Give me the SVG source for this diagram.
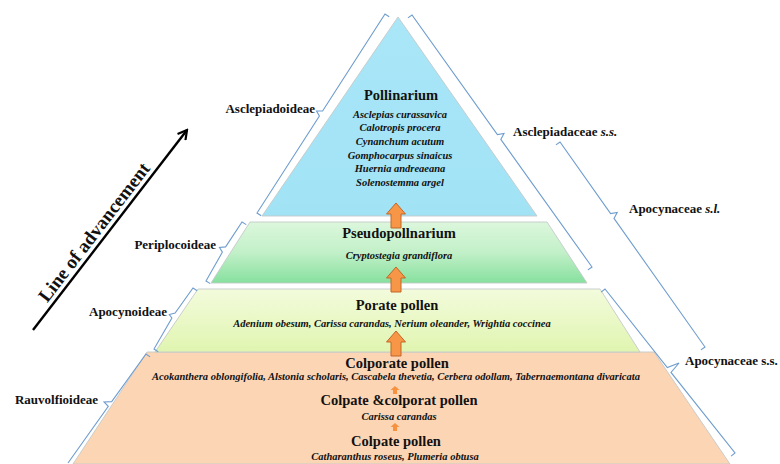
<svg xmlns="http://www.w3.org/2000/svg" width="780" height="464" viewBox="0 0 780 464">
  <style>
    .t { font-family: "Liberation Serif", "Times New Roman", serif; font-weight: bold; fill: #111; }
    .title { font-size: 14.5px; text-anchor: middle; }
    .sp { font-size: 10.5px; font-style: italic; text-anchor: middle; }
    .lab { font-size: 13px; }
    .end { text-anchor: end; }
    .br { fill: none; stroke: #6f9dcf; stroke-width: 1.1; stroke-linejoin: miter; }
    .layer { stroke: #c4c9c9; stroke-width: 0.9; }
    .bigarrow { fill: #f79646; stroke: #c2662a; stroke-width: 1; }
    .smallarrow { fill: #f5913f; }
  </style>
  <defs>
    <linearGradient id="gGreen" x1="0" y1="0" x2="0" y2="1">
      <stop offset="0" stop-color="#dcf7dc"/>
      <stop offset="0.5" stop-color="#c2f0c8"/>
      <stop offset="1" stop-color="#86e09e"/>
    </linearGradient>
    <linearGradient id="gYellow" x1="0" y1="0" x2="0" y2="1">
      <stop offset="0" stop-color="#f3fbdc"/>
      <stop offset="1" stop-color="#e0f5b0"/>
    </linearGradient>
    <linearGradient id="gBlue" x1="0" y1="0" x2="0" y2="1">
      <stop offset="0" stop-color="#a9e6f8"/>
      <stop offset="1" stop-color="#a1e3f5"/>
    </linearGradient>
    <path id="bigArrow" d="M0,0 L9.5,11 L5,11 L5,25 L-5,25 L-5,11 L-9.5,11 Z"/>
    <path id="smallArrow" d="M0,0 L4.5,4 L2,4 L2,8 L-2,8 L-2,4 L-4.5,4 Z"/>
    <marker id="arrowHead" viewBox="0 0 12 12" refX="10" refY="6" markerWidth="12" markerHeight="12" markerUnits="userSpaceOnUse" orient="auto">
      <path d="M1,1 L10,6 L1,11" fill="none" stroke="#000" stroke-width="2.2"/>
    </marker>
  </defs>

  <rect width="780" height="464" fill="#ffffff"/>

  <!-- Layers -->
  <g id="layer-rauvolfioideae">
    <polygon class="layer" points="147,352 654,352 730,464 73,464" fill="#fcd5b5"/>
    <text class="t title" x="397" y="368">Colporate pollen</text>
    <text class="t sp" x="396" y="380">Acokanthera oblongifolia, Alstonia scholaris, Cascabela thevetia, Cerbera odollam, Tabernaemontana divaricata</text>
    <use href="#smallArrow" x="395" y="386" class="smallarrow"/>
    <text class="t title" x="399" y="405">Colpate &amp;colporat pollen</text>
    <text class="t sp" x="399" y="420">Carissa carandas</text>
    <use href="#smallArrow" x="395" y="423" class="smallarrow"/>
    <text class="t title" x="396" y="446">Colpate pollen</text>
    <text class="t sp" x="395" y="460">Catharanthus roseus, Plumeria obtusa</text>
  </g>

  <g id="layer-apocynoideae">
    <polygon class="layer" points="198,289 600,289 640,352 155,352" fill="url(#gYellow)"/>
    <text class="t title" x="397" y="310">Porate pollen</text>
    <text class="t sp" x="392" y="327">Adenium obesum, Carissa carandas, Nerium oleander, Wrightia coccinea</text>
  </g>

  <g id="layer-periplocoideae">
    <polygon class="layer" points="250,222 547,222 587,283 211,283" fill="url(#gGreen)"/>
    <text class="t title" x="399" y="238">Pseudopollnarium</text>
    <text class="t sp" x="399" y="259">Cryptostegia grandiflora</text>
  </g>

  <g id="layer-asclepiadoideae">
    <polygon class="layer" points="398,17 537,216 262,216" fill="url(#gBlue)"/>
    <text class="t title" x="401" y="100">Pollinarium</text>
    <text class="t sp" x="400" y="117.5">Asclepias curassavica</text>
    <text class="t sp" x="400" y="131">Calotropis procera</text>
    <text class="t sp" x="400" y="144.5">Cynanchum acutum</text>
    <text class="t sp" x="400" y="158.5">Gomphocarpus sinaicus</text>
    <text class="t sp" x="400" y="172">Huernia andreaeana</text>
    <text class="t sp" x="400" y="186">Solenostemma argel</text>
  </g>

  <!-- Connectors: upward arrows between layers -->
  <g id="connectors">
    <use href="#bigArrow" x="396" y="203" class="bigarrow"/>
    <use href="#bigArrow" x="396" y="267" class="bigarrow"/>
    <use href="#bigArrow" x="396" y="331" class="bigarrow"/>
  </g>

  <!-- Brackets -->
  <g id="brackets">
    <path class="br" d="M389.2,16.7 L385,14 L322.6,111 L316.5,111 L319.4,116 L257,213 L261.2,215.7"/>
    <path class="br" d="M246.3,224.6 L242,222 L225.6,246.9 L219.5,247.5 L222.4,252.1 L206,281 L210.3,283.6"/>
    <path class="br" d="M197.2,290.7 L193,288 L175.1,313 L169.3,314.5 L171.9,318 L154,349 L158.2,351.7"/>
    <path class="br" d="M150.1,356.9 L146,354 L111.7,401.6 L104,402 L108.3,406.4 L68,463"/>
    <path class="br" d="M407.9,17.9 L412,15 L497.4,134.6 L504,133.5 L500.8,139.4 L592,267 L587.9,269.9"/>
    <path class="br" d="M555.9,144.9 L560,142 L610.6,213.6 L617.2,212.5 L614,218.4 L705,347 L700.9,349.9"/>
    <path class="br" d="M601.1,292.1 L605,289 L667.3,367.6 L679,363 L671,372.4 L735,453 L731.1,456.1"/>
  </g>

  <!-- Labels -->
  <g id="labels">
    <text class="t lab end" x="315" y="113">Asclepiadoideae</text>
    <text class="t lab end" x="216" y="249">Periplocoideae</text>
    <text class="t lab end" x="167" y="316">Apocynoideae</text>
    <text class="t lab end" x="98" y="404">Rauvolfioideae</text>
    <text class="t lab" x="513" y="136">Asclepiadaceae <tspan font-style="italic">s.s.</tspan></text>
    <text class="t lab" x="629" y="213">Apocynaceae <tspan font-style="italic">s.l.</tspan></text>
    <text class="t lab" x="685" y="365">Apocynaceae s.s.</text>
  </g>

  <!-- Line of advancement -->
  <g id="advancement">
    <line x1="33" y1="330" x2="187" y2="130" stroke="#000" stroke-width="2.4" marker-end="url(#arrowHead)"/>
    <text class="t" font-size="19" text-anchor="middle" transform="translate(103,239) rotate(-52.4)" x="0" y="-5">Line of advancement</text>
  </g>
</svg>
